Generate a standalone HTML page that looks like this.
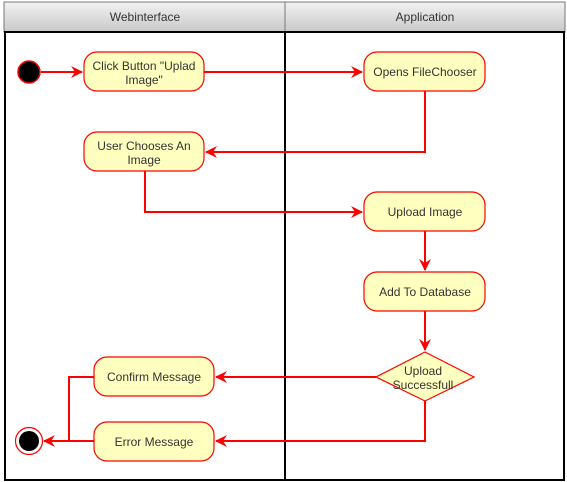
<!DOCTYPE html>
<html><head><style>body{margin:0;background:#fff}svg{display:block}text{font-family:"Liberation Sans",sans-serif;font-size:12px;fill:#333;text-anchor:middle}</style></head><body>
<svg width="567" height="482" viewBox="0 0 567 482" xmlns="http://www.w3.org/2000/svg">
<defs>
<linearGradient id="g" x1="0" y1="0" x2="0" y2="1"><stop offset="0" stop-color="#f2f2f2"/><stop offset="1" stop-color="#c8c8c8"/></linearGradient>
<marker id="a" viewBox="0 0 10 10" refX="9" refY="5" markerWidth="6" markerHeight="6" orient="auto" markerUnits="userSpaceOnUse"><path d="M0,0 L10,5 L0,10 L3,5 Z" fill="#f00"/></marker>
<marker id="b" viewBox="0 0 12 12" refX="11" refY="6" markerWidth="12" markerHeight="12" orient="auto" markerUnits="userSpaceOnUse"><path d="M0,0 L12,6 L0,12 L4,6 Z" fill="#f00"/></marker>
</defs>
<rect x="4" y="2" width="281" height="30" fill="url(#g)" stroke="#777"/>
<rect x="285" y="2" width="280" height="30" fill="url(#g)" stroke="#777"/>
<text x="145" y="21">Webinterface</text>
<text x="425" y="21">Application</text>
<rect x="5" y="32" width="280" height="448" fill="none" stroke="#000" stroke-width="2"/>
<rect x="285" y="32" width="279" height="448" fill="none" stroke="#000" stroke-width="2"/>
<g fill="none" stroke="#f00" stroke-width="2">
<path d="M41 72 H82" marker-end="url(#b)"/>
<path d="M204 72 H362" marker-end="url(#b)"/>
<path d="M425 91 V152 H206" marker-end="url(#b)"/>
<path d="M145 171 V212 H362" marker-end="url(#b)"/>
<path d="M425 231 V270" marker-end="url(#b)"/>
<path d="M425 311 V350" marker-end="url(#b)"/>
<path d="M376 377 H216" marker-end="url(#b)"/>
<path d="M425 401 V441 H216" marker-end="url(#b)"/>
<path d="M94 377 H69 V441"/>
<path d="M94 441 H44" marker-end="url(#b)"/>
</g>
<circle cx="29" cy="72" r="11" fill="#000" stroke="#f00" stroke-width="1.5"/>
<circle cx="29" cy="441" r="13.5" fill="#fff" stroke="#f00" stroke-width="1.2"/>
<circle cx="29" cy="441" r="10" fill="#000"/>
<g fill="#ffffc0" stroke="#f00" stroke-width="1.2">
<rect x="84" y="52" width="120" height="39" rx="13"/>
<rect x="364" y="52" width="121" height="39" rx="13"/>
<rect x="84" y="132" width="120" height="39" rx="13"/>
<rect x="364" y="192" width="121" height="39" rx="13"/>
<rect x="364" y="272" width="121" height="39" rx="13"/>
<rect x="94" y="357" width="120" height="39" rx="13"/>
<rect x="94" y="422" width="120" height="39" rx="13"/>
<path d="M425 352 L474 377 L425 401 L376 377 Z"/>
</g>
<text x="144" y="70">Click Button "Uplad</text>
<text x="144" y="84">Image"</text>
<text x="425" y="76">Opens FileChooser</text>
<text x="144" y="150">User Chooses An</text>
<text x="144" y="164">Image</text>
<text x="425" y="216">Upload Image</text>
<text x="425" y="296">Add To Database</text>
<text x="423" y="375">Upload</text>
<text x="423" y="389">Successfull</text>
<text x="154" y="381">Confirm Message</text>
<text x="154" y="446">Error Message</text>
</svg>
</body></html>
